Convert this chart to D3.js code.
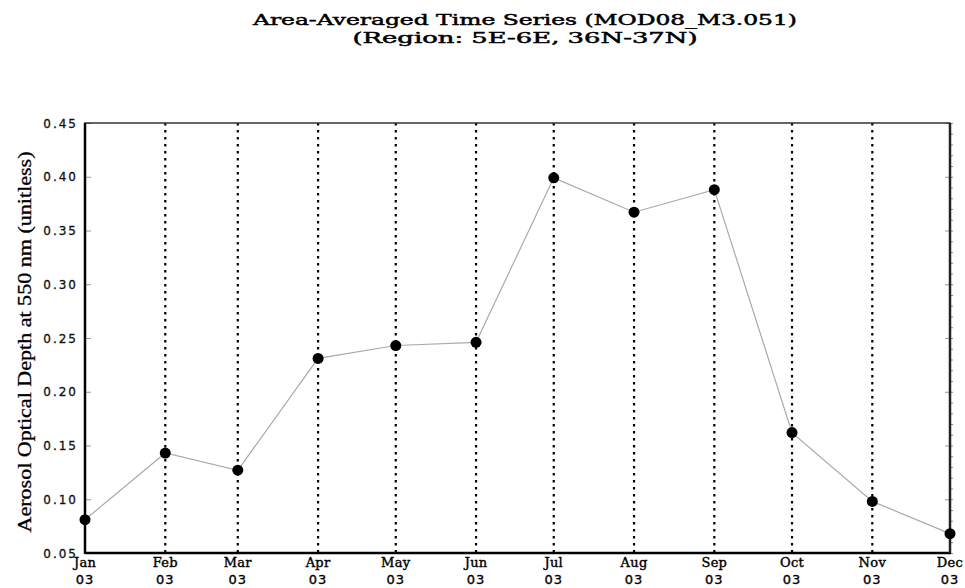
<!DOCTYPE html>
<html><head><meta charset="utf-8">
<script src="https://cdn.jsdelivr.net/npm/d3@7"></script>
<style>body{margin:0;background:#fff}</style>
</head><body>
<svg id="c" width="965" height="588"></svg>
<script>
const months = ["Jan","Feb","Mar","Apr","May","Jun","Jul","Aug","Sep","Oct","Nov","Dec"];
const yearLabels = ["03","03","03","03","03","03","03","03","03","03","03","03"];
const aod = [0.081, 0.143, 0.127, 0.231, 0.243, 0.246, 0.399, 0.367, 0.388, 0.162, 0.098, 0.068];
const yTicks = [0.05,0.10,0.15,0.20,0.25,0.30,0.35,0.40,0.45];
const titleLines = ["Area-Averaged Time Series (MOD08_M3.051)","(Region: 5E-6E, 36N-37N)"];
const yTitle = "Aerosol Optical Depth at 550 nm (unitless)";

const dates = months.map((m,i)=>new Date(2003,i,1));
const svg = d3.select("#c");
const L=85, R=950, T=123, B=553;
const x = d3.scaleTime().domain([dates[0], dates[11]]).range([L,R]);
const y = d3.scaleLinear().domain([0.05,0.45]).range([B,T]);

// title
svg.selectAll("text.title").data(titleLines).join("text")
  .attr("x",525).attr("y",(d,i)=>25+i*18)
  .attr("text-anchor","middle")
  .attr("font-family","DejaVu Serif").attr("font-size",14)
  .attr("stroke","#000").attr("stroke-width",0.45)
  .attr("textLength",(d,i)=>i===0?544:345).attr("lengthAdjust","spacingAndGlyphs")
  .text(d=>d);

// vertical dotted gridlines
svg.selectAll("line.grid").data(dates.slice(1,11)).join("line")
  .attr("x1",d=>x(d)).attr("x2",d=>x(d)).attr("y1",T).attr("y2",B)
  .attr("stroke","#000").attr("stroke-width",2.2).attr("stroke-dasharray","2.5,4.5");

// y ticks inside left axis and right axis
const yAxisL = d3.axisRight(y).tickValues(yTicks).tickSize(6).tickFormat("");
svg.append("g").attr("transform",`translate(${L},0)`).call(yAxisL)
  .call(g=>g.select(".domain").remove())
  .call(g=>g.selectAll(".tick line").attr("stroke","#999"));
const yAxisR = d3.axisLeft(y).tickValues(yTicks).tickSize(5).tickFormat("");
svg.append("g").attr("transform",`translate(${R},0)`).call(yAxisR)
  .call(g=>g.select(".domain").remove())
  .call(g=>g.selectAll(".tick line").attr("stroke","#999"));
svg.append("g").attr("transform",`translate(${R},0)`)
  .call(d3.axisRight(y).ticks(40).tickSize(3).tickFormat(""))
  .call(g=>g.select(".domain").remove())
  .call(g=>g.selectAll(".tick line").attr("stroke","#888"));

// y tick labels
svg.selectAll("text.yl").data(yTicks).join("text")
  .attr("x",78).attr("y",d=>y(d)+4.5).attr("text-anchor","end")
  .attr("font-family","DejaVu Sans").attr("font-size",12).attr("letter-spacing","2")
  .attr("fill","#111").attr("stroke","#111").attr("stroke-width",0.3)
  .text(d=>d3.format(".2f")(d));

// y title
svg.append("text").attr("transform","translate(31,342) rotate(-90)")
  .attr("text-anchor","middle").attr("font-family","Liberation Serif").attr("font-size",19)
  .attr("stroke","#000").attr("stroke-width",0.3)
  .attr("textLength",381).attr("lengthAdjust","spacingAndGlyphs")
  .text(yTitle);

// frame
svg.append("rect").attr("x",L).attr("y",T).attr("width",R-L).attr("height",B-T)
  .attr("fill","none").attr("stroke","#333").attr("stroke-width",1.5);
svg.append("line").attr("x1",L).attr("x2",L).attr("y1",T).attr("y2",B+1).attr("stroke","#000").attr("stroke-width",2.5);
svg.append("line").attr("x1",L).attr("x2",R+1).attr("y1",B).attr("y2",B).attr("stroke","#000").attr("stroke-width",2.5);
svg.append("line").attr("x1",R).attr("x2",R).attr("y1",T).attr("y2",B).attr("stroke","#222").attr("stroke-width",2.5);

// x labels
const xl = svg.selectAll("g.xl").data(dates).join("g").attr("class","xl")
  .attr("transform",d=>`translate(${x(d)},0)`);
xl.append("text").attr("y",567).attr("text-anchor","middle")
  .attr("font-family","DejaVu Serif").attr("font-size",13).attr("letter-spacing","0.3")
  .attr("stroke","#000").attr("stroke-width",0.4)
  .text((d,i)=>months[i]);
xl.append("text").attr("y",584).attr("text-anchor","middle")
  .attr("font-family","DejaVu Sans").attr("font-size",13).attr("letter-spacing","1")
  .attr("stroke","#000").attr("stroke-width",0.35)
  .text((d,i)=>yearLabels[i]);

// line & points
svg.append("path").datum(aod)
  .attr("d",d3.line().x((d,i)=>x(dates[i])).y(d=>y(d)))
  .attr("fill","none").attr("stroke","#aaa").attr("stroke-width",1.2);
svg.selectAll("circle").data(aod).join("circle")
  .attr("cx",(d,i)=>x(dates[i])).attr("cy",d=>y(d)).attr("r",5.5).attr("fill","#000");
</script>
</body></html>
